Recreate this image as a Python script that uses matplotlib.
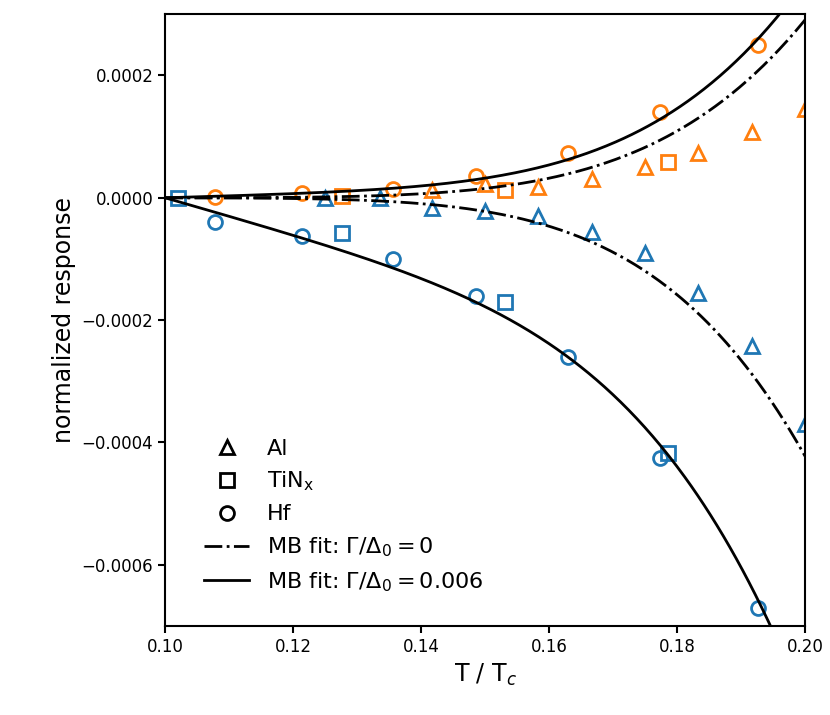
import numpy as np
import matplotlib
matplotlib.use("Agg")
import matplotlib.pyplot as plt

al_x = [0.125, 0.1336, 0.1417, 0.15, 0.1583, 0.1667, 0.175, 0.1833, 0.1917, 0.2]
al_blue = [0, 0, -0.0000165, -0.0000215, -0.00003, -0.000056, -0.000091, -0.000155, -0.000243, -0.000369]
al_orng_x = [0.1417, 0.15, 0.1583, 0.1667, 0.175, 0.1833, 0.1917, 0.2]
al_orng = [0.000013, 0.000023, 0.000018, 0.00003, 0.00005, 0.000074, 0.000107, 0.000145]
tin_x = [0.102, 0.1277, 0.1531, 0.1786]
tin_blue = [0, -0.000058, -0.00017, -0.000418]
tin_orng_x = [0.1277, 0.1531, 0.1786]
tin_orng = [0.000003, 0.000013, 0.000058]
hf_x = [0.1078, 0.1214, 0.1356, 0.1486, 0.163, 0.1773, 0.1927]
hf_blue = [-0.00004, -0.000063, -0.0001, -0.00016, -0.00026, -0.000426, -0.00067]
hf_orng = [0.000002, 0.000008, 0.000015, 0.000035, 0.000073, 0.00014, 0.00025]

# MB fit model parameters
gap = 1.764
fit_dd_lo, fit_dd_hi = 2.86, 1.97
fit_s_lo, fit_s_lo_lin = 3.6, 0.003
fit_s_hi, fit_s_hi_lin = 2.2, 0.0003

t = np.linspace(0.1, 0.2, 400)
e = np.exp(-gap / t) - np.exp(-gap / 0.1)

blue, orange = "#1f77b4", "#ff7f0e"
fig = plt.figure(figsize=(8.3, 7.15), dpi=100)
ax = fig.add_axes([0.199, 0.1245, 0.771, 0.8555])
mk = dict(ls="none", mfc="none", ms=10, mew=2)
ax.plot(al_x, al_blue, marker="^", color=blue, **mk)
ax.plot(al_orng_x, al_orng, marker="^", color=orange, **mk)
ax.plot(tin_x, tin_blue, marker="s", color=blue, **mk)
ax.plot(tin_orng_x, tin_orng, marker="s", color=orange, **mk)
ax.plot(hf_x, hf_blue, marker="o", color=blue, **mk)
ax.plot(hf_x, hf_orng, marker="o", color=orange, **mk)

ax.plot(t, -fit_dd_lo * e, "k-.", lw=2)
ax.plot(t, fit_dd_hi * e, "k-.", lw=2)
ax.plot(t, -(fit_s_lo * e + fit_s_lo_lin * (t - 0.1)), "k-", lw=2)
ax.plot(t, fit_s_hi * e + fit_s_hi_lin * (t - 0.1), "k-", lw=2)

h = [ax.plot([], [], marker=m, color="k", **mk)[0] for m in ["^", "s", "o"]]
h += [ax.plot([], [], "k-.", lw=2)[0], ax.plot([], [], "k-", lw=2)[0]]
ax.legend(h, ["Al", r"TiN$_\mathregular{x}$", "Hf", r"MB fit: $\Gamma/\Delta_0 = 0$",
              r"MB fit: $\Gamma/\Delta_0 = 0.006$"],
          loc="lower left", frameon=False, fontsize=16, bbox_to_anchor=(0.03, 0.02))

ax.set_xlim(0.1, 0.2)
ax.set_ylim(-0.0007, 0.0003)
ax.set_yticks([-0.0006, -0.0004, -0.0002, 0, 0.0002])
ax.set_yticklabels(["\u22120.0006", "\u22120.0004", "\u22120.0002", "0.0000", "0.0002"])
ax.set_xticks([0.10, 0.12, 0.14, 0.16, 0.18, 0.20])
ax.set_xticklabels(["0.10", "0.12", "0.14", "0.16", "0.18", "0.20"])
ax.tick_params(labelsize=12, width=1.5, length=5)
for s in ax.spines.values():
    s.set_linewidth(1.5)
ax.set_xlabel(r"T / T$_c$", fontsize=17)
ax.set_ylabel("normalized response", fontsize=17)
fig.savefig("out.png")
